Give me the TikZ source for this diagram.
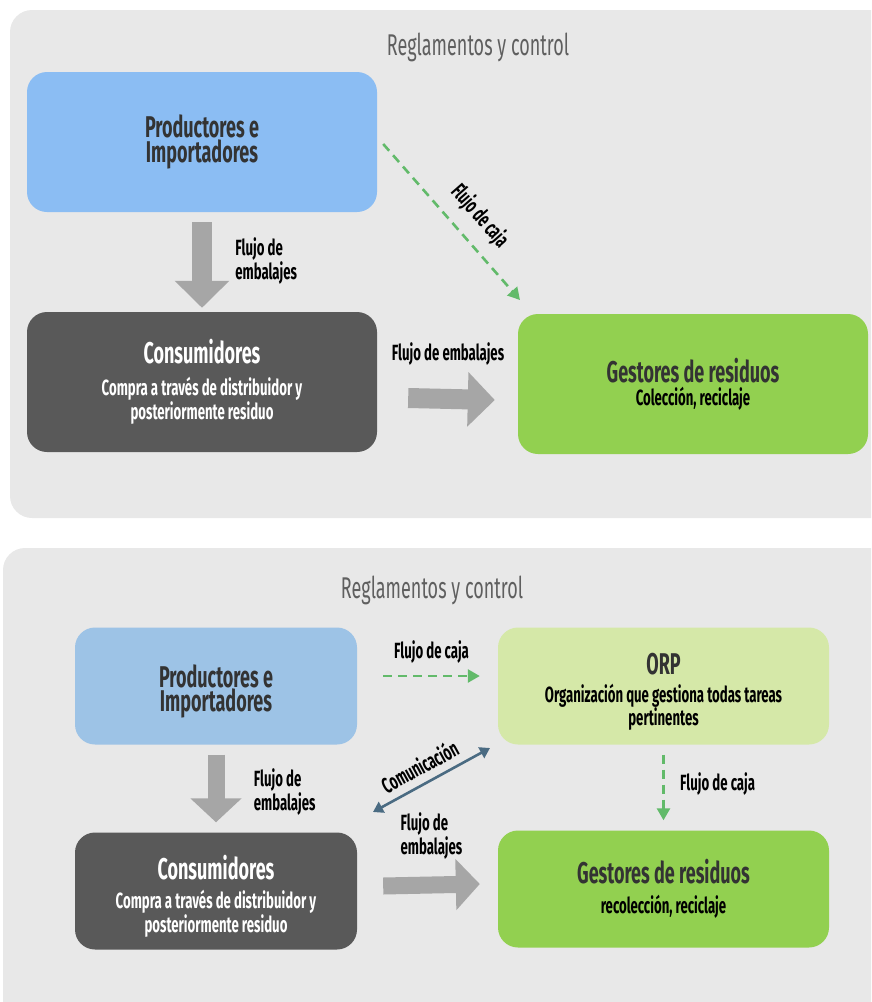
\documentclass[tikz,border=0pt]{standalone}
\usepackage{fontspec}
\setmainfont[FakeStretch=0.6]{Fira Sans}
\usetikzlibrary{arrows.meta,positioning}
\definecolor{panelgray}{HTML}{E8E8E8}
\definecolor{prodblue}{HTML}{8BBDF3}
\definecolor{prodblueb}{HTML}{9DC3E6}
\definecolor{consgray}{HTML}{595959}
\definecolor{gestgreen}{HTML}{92D050}
\definecolor{orpgreen}{HTML}{D5E8A8}
\definecolor{flowgray}{HTML}{A6A6A6}
\definecolor{cashgreen}{HTML}{62BA6A}
\definecolor{commblue}{HTML}{4A6B82}
\definecolor{titlegray}{HTML}{5F5F5F}
\definecolor{textdark}{HTML}{333333}

\begin{document}
\begin{tikzpicture}[x=1pt, y=-1pt, font=\bfseries]
    \tikzstyle{panel}=[fill=panelgray, rounded corners=22pt]
    \tikzstyle{box}=[rounded corners=20pt, align=center, inner sep=0pt, text=textdark]
    \tikzstyle{big box}=[box, minimum width=350pt, minimum height=140pt]
    \tikzstyle{small box}=[box, minimum width=282pt, minimum height=117pt]
    \tikzstyle{wide box}=[box, minimum width=331pt, minimum height=117pt]
    \tikzstyle{panel title}=[font=\mdseries\fontsize{30}{32}\selectfont, text=titlegray]
    \tikzstyle{label}=[font=\bfseries\fontsize{22}{21}\selectfont, align=left]
    \tikzstyle{fat arrow}=[draw=flowgray, line width=20pt, -{Triangle[width=53pt,length=27pt]}]
    \tikzstyle{slim arrow}=[draw=flowgray, line width=17pt, -{Triangle[width=50pt,length=24pt]}]
    \tikzstyle{cash}=[draw=cashgreen, line width=2.6pt, dash pattern=on 9pt off 6pt, -{Triangle[width=13pt,length=12pt]}]
    \tikzstyle{comm}=[draw=commblue, line width=2.6pt, {Triangle[width=12pt,length=10pt]}-{Triangle[width=12pt,length=10pt]}]
    \newcommand{\boxhead}{\fontsize{30}{23}\selectfont}
    \newcommand{\boxsub}{\color{black}\fontsize{22}{21}\selectfont}
    \newcommand{\boxsubw}{\fontsize{22}{21}\selectfont}
    \newcommand{\pushdown}[1]{\rule{0pt}{#1}}

    \clip (0,0) rectangle (871,1002);

    % Background panels
    \fill[panel] (10,10) rectangle (895,518);
    \fill[panel] (3,548) rectangle (895,1025);

    % First panel: without ORP
    \node[panel title] (title1) at (478,47) {Reglamentos y control};
    \node[big box, fill=prodblue] (prod1) at (202,142) {\boxhead Productores e\\\boxhead Importadores};
    \node[big box, fill=consgray, text=white] (cons1) at (202,382)
        {\boxhead Consumidores\\[12pt]\boxsubw Compra a través de distribuidor y\\\boxsubw posteriormente residuo};
    \node[big box, fill=gestgreen] (gest1) at (693,384)
        {\boxhead Gestores de residuos\\[3pt]\boxsub Colección, reciclaje};

    \draw[fat arrow] ([yshift=-10pt]prod1.south) -- ([yshift=4pt]cons1.north)
        node[label, anchor=west, pos=0.45, xshift=20pt] {Flujo de\\embalajes};
    \draw[fat arrow] ([xshift=31pt,yshift=-16pt]cons1.east) -- ([xshift=-23pt,yshift=-16pt]gest1.west);
    \node[label] (flow1) at (448,354) {Flujo de embalajes};
    \draw[cash] ([xshift=6pt,yshift=-2pt]prod1.east |- 0,142) coordinate (cash1a) -- (520,300) coordinate (cash1b)
        node[label, sloped, pos=0.5, above=9pt, xshift=14pt] {Flujo de caja};

    % Second panel: with ORP
    \node[panel title] (title2) at (432,590) {Reglamentos y control};
    \node[small box, fill=prodblueb] (prod2) at (216,686) {\pushdown{33pt}\boxhead Productores e\\\boxhead Importadores};
    \node[wide box, fill=orpgreen] (orp) at (663.5,686)
        {\pushdown{33pt}\boxhead ORP\\[8pt]\boxsub Organización que gestiona todas tareas\\\boxsub pertinentes};
    \node[small box, fill=consgray, text=white] (cons2) at (216,891)
        {\pushdown{35pt}\boxhead Consumidores\\[9pt]\boxsubw Compra a través de distribuidor y\\\boxsubw posteriormente residuo};
    \node[wide box, fill=gestgreen] (gest2) at (663.5,889)
        {\boxhead Gestores de residuos\\[10pt]\boxsub recolección, reciclaje};

    \draw[cash] ([xshift=26pt,yshift=10pt]prod2.east) -- ([xshift=-18pt,yshift=10pt]orp.west)
        node[label, midway, above=8pt] {Flujo de caja};
    \draw[cash] ([yshift=-10pt]orp.south) -- ([yshift=10pt]gest2.north)
        node[label, pos=0.45, anchor=west, xshift=12pt] {Flujo de caja};
    \draw[slim arrow] ([yshift=-10pt]prod2.south) -- ([yshift=10pt]cons2.north)
        node[label, anchor=west, pos=0.55, xshift=26pt] {Flujo de\\embalajes};
    \draw[slim arrow] ([xshift=26pt,yshift=5pt]cons2.east) -- ([xshift=-18pt,yshift=5pt]gest2.west)
        node[label, midway, above=14pt] {Flujo de\\embalajes};

    \coordinate (comm a) at (373,812);
    \coordinate (comm b) at (490,748);
    \draw[comm] (comm a) -- (comm b)
        node[label, sloped, midway, above=4pt, xshift=-4pt] {Comunicación};
\end{tikzpicture}
\end{document}
